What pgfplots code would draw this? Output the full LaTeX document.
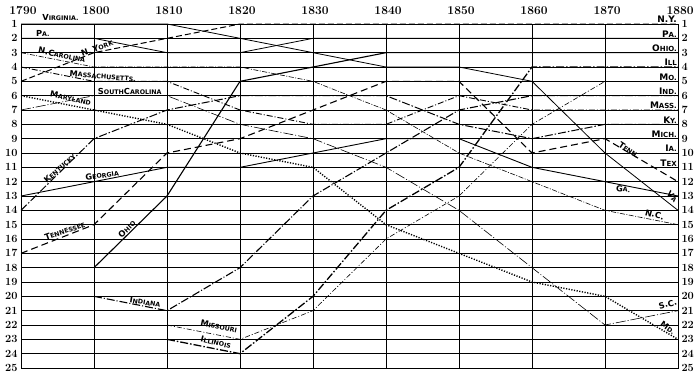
\documentclass[border=0pt]{standalone}
\usepackage{fontspec}
\usepackage{pgfplots}
\pgfplotsset{compat=1.18}
\newfontfamily\labfont{DejaVu Sans}
\newcommand{\Lg}[1]{{\fontsize{8.3}{8}\selectfont #1}}
\newcommand{\lab}[1]{{\labfont\bfseries\fontsize{6.3}{6}\selectfont #1}}
\newcommand{\LgR}[1]{{\fontsize{9}{9}\selectfont #1}}
\newcommand{\labR}[1]{{\labfont\bfseries\fontsize{7}{7}\selectfont #1}}
\tikzset{rl/.style={anchor=south east, inner sep=1pt}}
\begin{document}
\begin{tikzpicture}
\pgfplotsset{
  base/.style={
    scale only axis, width=657pt, height=344pt,
    xmin=1790, xmax=1880, ymin=1, ymax=25, y dir=reverse,
    clip=false,
    /pgf/number format/assume math mode=true,
    /pgf/number format/1000 sep={},
    major tick length=0pt,
  },
}
\begin{axis}[base,
  xtick={1790,1800,...,1880}, ytick={1,...,25},
  xticklabel pos=right,
  xticklabel style={font=\bfseries\fontsize{12}{12}\selectfont, yshift=6pt, xshift=2pt},
  yticklabel style={font=\bfseries\fontsize{11}{11}\selectfont},
  grid=major, major grid style={black, line width=0.8pt},
  axis line style={black, line width=1pt},
]
% Virginia
\addplot[black, line width=0.8pt] coordinates {(1790,1)(1800,1)(1810,1)(1820,2)(1830,3)(1840,4)(1850,4)(1860,5)(1870,10)(1880,14)};
% Pennsylvania
\addplot[black, line width=0.8pt] coordinates {(1790,2)(1800,2)(1810,3)(1820,3)(1830,2)(1840,2)(1850,2)(1860,2)(1870,2)(1880,2)};
% New York
\addplot[black, line width=1pt, dash pattern=on 6pt off 3pt] coordinates {(1790,5)(1800,3)(1810,2)(1820,1)(1830,1)(1840,1)(1850,1)(1860,1)(1870,1)(1880,1)};
% North Carolina
\addplot[black, line width=0.6pt, dash pattern=on 5pt off 1.5pt on 1pt off 1.5pt] coordinates {(1790,3)(1800,4)(1810,4)(1820,4)(1830,5)(1840,7)(1850,10)(1860,12)(1870,14)(1880,15)};
% Massachusetts
\addplot[black, line width=0.9pt, dash pattern=on 6pt off 2pt on 1pt off 2pt] coordinates {(1790,4)(1800,5)(1810,5)(1820,7)(1830,8)(1840,8)(1850,6)(1860,7)(1870,7)(1880,7)};
% Maryland
\addplot[black, line width=1.4pt, dash pattern=on 1.2pt off 1.5pt] coordinates {(1790,6)(1800,7)(1810,8)(1820,10)(1830,11)(1840,15)(1850,17)(1860,19)(1870,20)(1880,23)};
% South Carolina
\addplot[black, line width=0.6pt, dash pattern=on 10pt off 2pt on 1pt off 2pt] coordinates {(1790,7)(1800,6)(1810,6)(1820,8)(1830,9)(1840,11)(1850,14)(1860,18)(1870,22)(1880,21)};
% Kentucky
\addplot[black, line width=1pt, dash pattern=on 8pt off 2pt on 1.5pt off 2pt] coordinates {(1790,14)(1800,9)(1810,7)(1820,6)(1830,6)(1840,6)(1850,8)(1860,9)(1870,8)(1880,8)};
% Georgia
\addplot[black, line width=0.9pt] coordinates {(1790,13)(1800,12)(1810,11)(1820,11)(1830,10)(1840,9)(1850,9)(1860,11)(1870,12)(1880,13)};
% Tennessee
\addplot[black, line width=1.1pt, dash pattern=on 7pt off 4pt] coordinates {(1790,17)(1800,15)(1810,10)(1820,9)(1830,7)(1840,5)(1850,5)(1860,10)(1870,9)(1880,12)};
% Ohio
\addplot[black, line width=1.1pt] coordinates {(1800,18)(1810,13)(1820,5)(1830,4)(1840,3)(1850,3)(1860,3)(1870,3)(1880,3)};
% Indiana
\addplot[black, line width=1.1pt, dash pattern=on 8pt off 2pt on 1pt off 2pt] coordinates {(1800,20)(1810,21)(1820,18)(1830,13)(1840,10)(1850,7)(1860,6)(1870,6)(1880,6)};
% Missouri
\addplot[black, line width=0.6pt, dash pattern=on 5pt off 2pt on 1pt off 2pt] coordinates {(1810,22)(1820,23)(1830,21)(1840,16)(1850,13)(1860,8)(1870,5)(1880,5)};
% Illinois
\addplot[black, line width=1.3pt, dash pattern=on 8pt off 2pt on 1.5pt off 2pt] coordinates {(1810,23)(1820,24)(1830,20)(1840,14)(1850,11)(1860,4)(1870,4)(1880,4)};

% left labels
\node at (axis cs:1795.4,0.55) {\lab{\Lg{V}IRGINIA.}};
\node at (axis cs:1793.0,1.63) {\lab{\Lg{P}A.}};
\node[rotate=-12] at (axis cs:1795.6,3.16) {\lab{\Lg{N.C}AROLINA}};
\node[rotate=20] at (axis cs:1800.4,2.67) {\lab{\Lg{N.} \Lg{Y}ORK}};
\node[rotate=-5] at (axis cs:1801.2,4.63) {\lab{\Lg{M}ASSACHUSETTS.}};
\node at (axis cs:1804.9,5.68) {\lab{\Lg{S}OUTH\Lg{C}AROLINA}};
\node[rotate=-12] at (axis cs:1796.8,6.16) {\lab{\Lg{M}ARYLAND}};
\node[rotate=42] at (axis cs:1795.3,11.05) {\lab{\Lg{K}ENTUCKY}};
\node[rotate=8] at (axis cs:1801.1,11.54) {\lab{\Lg{G}EORGIA}};
\node[rotate=19] at (axis cs:1796.0,15.44) {\lab{\Lg{T}ENNESSEE}};
\node[rotate=44] at (axis cs:1804.5,15.3) {\lab{\Lg{O}HIO}};
\node[rotate=-9] at (axis cs:1807.0,20.4) {\lab{\Lg{I}NDIANA}};
\node[rotate=-12] at (axis cs:1817.1,22.1) {\lab{\Lg{M}ISSOURI}};
\node[rotate=-14] at (axis cs:1816.7,23.2) {\lab{\Lg{I}LLINOIS}};
% right labels
\node[rl] at (axis cs:1880,1) {\labR{\LgR{N.Y.}}};
\node[rl] at (axis cs:1880,2) {\labR{\LgR{P}A.}};
\node[rl] at (axis cs:1880,3) {\labR{\LgR{O}HIO.}};
\node[rl] at (axis cs:1880,4) {\labR{\LgR{I}LL}};
\node[rl] at (axis cs:1880,5) {\labR{\LgR{M}O.}};
\node[rl] at (axis cs:1880,6) {\labR{\LgR{I}ND.}};
\node[rl] at (axis cs:1880,7) {\labR{\LgR{M}ASS.}};
\node[rl] at (axis cs:1880,8) {\labR{\LgR{K}Y.}};
\node[rl] at (axis cs:1880,9) {\labR{\LgR{M}ICH.}};
\node[rl] at (axis cs:1880,10) {\labR{\LgR{I}A.}};
\node[rl] at (axis cs:1880,11) {\labR{\LgR{T}EX}};
\node[rotate=-33, inner sep=0.3pt] at (axis cs:1873.3,9.8) {\lab{\Lg{T}ENN.}};
\node[rotate=-5] at (axis cs:1872.5,12.5) {\lab{\Lg{G}A.}};
\node[rotate=-45, inner sep=0.3pt] at (axis cs:1879.2,13.05) {\lab{\Lg{V}A}};
\node[rotate=-15] at (axis cs:1876.8,14.3) {\lab{\Lg{N.C.}}};
\node[rotate=15, inner sep=0.3pt] at (axis cs:1878.6,20.55) {\lab{\Lg{S.C.}}};
\node[rotate=-35, inner sep=0.3pt] at (axis cs:1878.6,22.2) {\lab{\Lg{M}D.}};
\end{axis}
\begin{axis}[base,
  xtick=\empty, ytick={1,...,25},
  yticklabel pos=right,
  yticklabel style={font=\bfseries\fontsize{11}{11}\selectfont},
  axis line style={draw=none},
]
\addplot[draw=none] coordinates {(1790,1)(1880,25)};
\end{axis}
\path[use as bounding box] (-21pt,-10pt) rectangle (679pt,368pt);
\end{tikzpicture}
\end{document}
